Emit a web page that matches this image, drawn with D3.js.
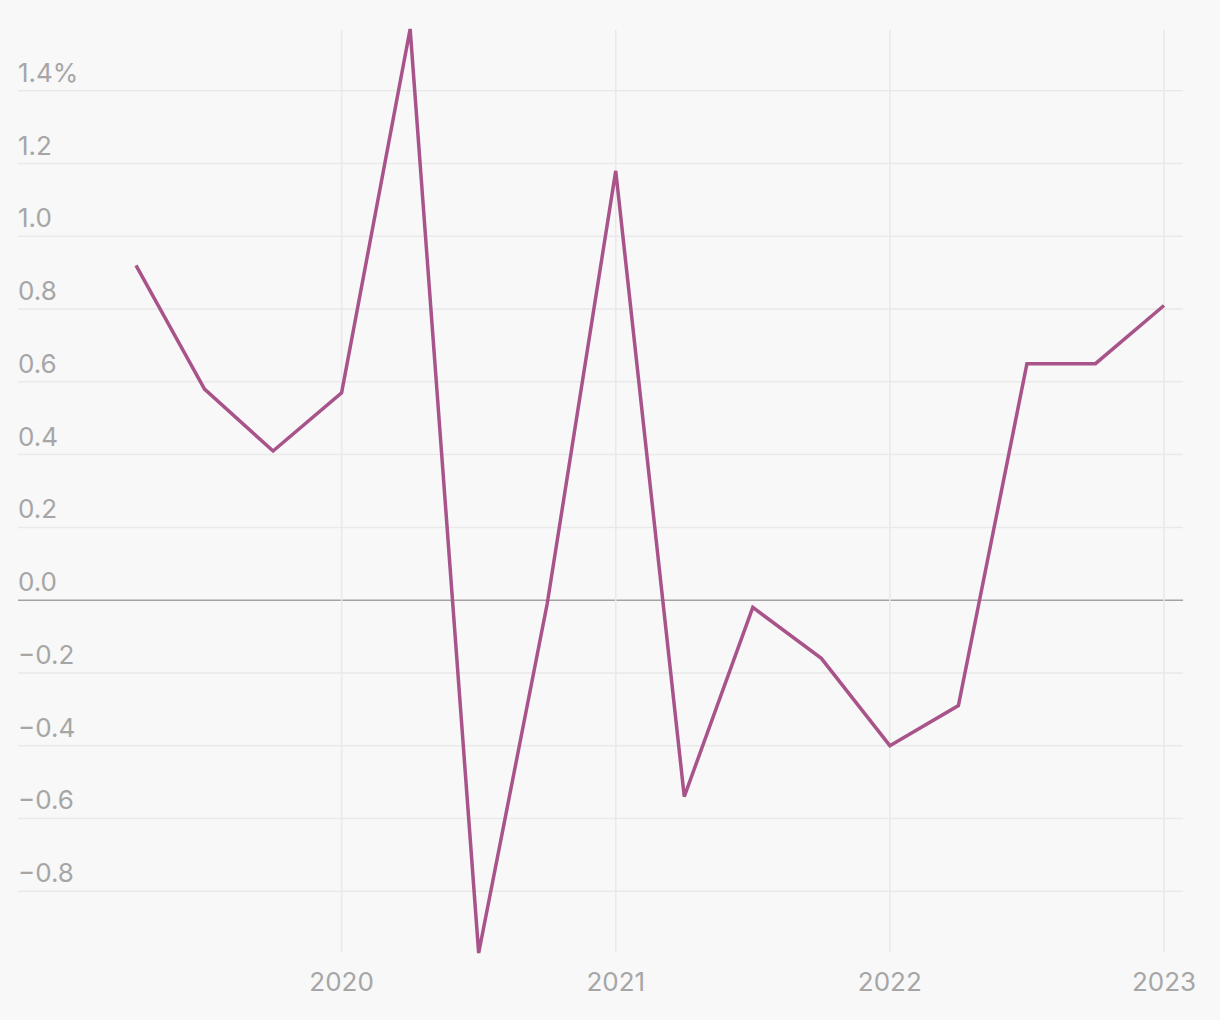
<!DOCTYPE html>
<html lang="en">
<head>
<meta charset="UTF-8">
<title>Quarterly change</title>
<script src="https://d3js.org/d3.v7.min.js"></script>
<style>
    body { margin: 0; background: #f8f8f8; }
    svg text { font-family: Inter, "Noto Sans", sans-serif; fill: #a6a6a6; font-size: 26px; }
</style>
</head>
<body>
<script>
    // quarters as decimal years, values in %
    var quarters = [2019.25, 2019.5, 2019.75, 2020.0, 2020.25, 2020.5, 2020.75, 2021.0,
                    2021.25, 2021.5, 2021.75, 2022.0, 2022.25, 2022.5, 2022.75, 2023.0];
    var values = [0.92, 0.58, 0.41, 0.57, 1.57, -0.97, -0.01, 1.18,
                  -0.54, -0.02, -0.16, -0.40, -0.29, 0.65, 0.65, 0.81];
    var yTicks = [1.4, 1.2, 1.0, 0.8, 0.6, 0.4, 0.2, 0.0, -0.2, -0.4, -0.6, -0.8];
    var xTicks = [2020, 2021, 2022, 2023];

    var W = 1220, H = 1020;
    var plotLeft = 18, plotRight = 1183, plotTop = 29, plotBottom = 953;

    var svg = d3.select("body").append("svg")
        .attr("width", W).attr("height", H);

    var x = d3.scaleLinear().domain([2019.25, 2023]).range([136, 1164]);
    var y = d3.scaleLinear().domain([d3.min(values), d3.max(values)]).range([plotBottom, plotTop]);

    // horizontal grid
    svg.append("g").selectAll("line")
        .data(yTicks).enter().append("line")
        .attr("x1", plotLeft).attr("x2", plotRight)
        .attr("y1", function(d){ return y(d); })
        .attr("y2", function(d){ return y(d); })
        .attr("stroke", function(d){ return d === 0 ? "#a3a3a3" : "#e9e9e9"; })
        .attr("stroke-width", 1.5);

    // vertical grid
    svg.append("g").selectAll("line")
        .data(xTicks).enter().append("line")
        .attr("x1", function(d){ return x(d); })
        .attr("x2", function(d){ return x(d); })
        .attr("y1", 30).attr("y2", 952)
        .attr("stroke", "#e9e9e9")
        .attr("stroke-width", 1.5);

    // y labels
    svg.append("g").selectAll("text")
        .data(yTicks).enter().append("text")
        .attr("x", plotLeft)
        .attr("y", function(d){ return y(d) - 9; })
        .text(function(d){
            var s = d3.format(".1f")(Math.abs(d));
            if (d < 0) s = "\u2212" + s;
            if (d === 1.4) s += "%";
            return s;
        });

    // x labels
    svg.append("g").selectAll("text")
        .data(xTicks).enter().append("text")
        .attr("x", function(d){ return x(d); })
        .attr("y", 991)
        .attr("text-anchor", "middle")
        .text(function(d){ return d; });

    var line = d3.line()
        .x(function(d, i){ return x(quarters[i]); })
        .y(function(d){ return y(d); });

    svg.append("path")
        .datum(values)
        .attr("d", line)
        .attr("fill", "none")
        .attr("stroke", "#a8538a")
        .attr("stroke-width", 3.5)
        .attr("stroke-linejoin", "miter");
</script>
</body>
</html>
